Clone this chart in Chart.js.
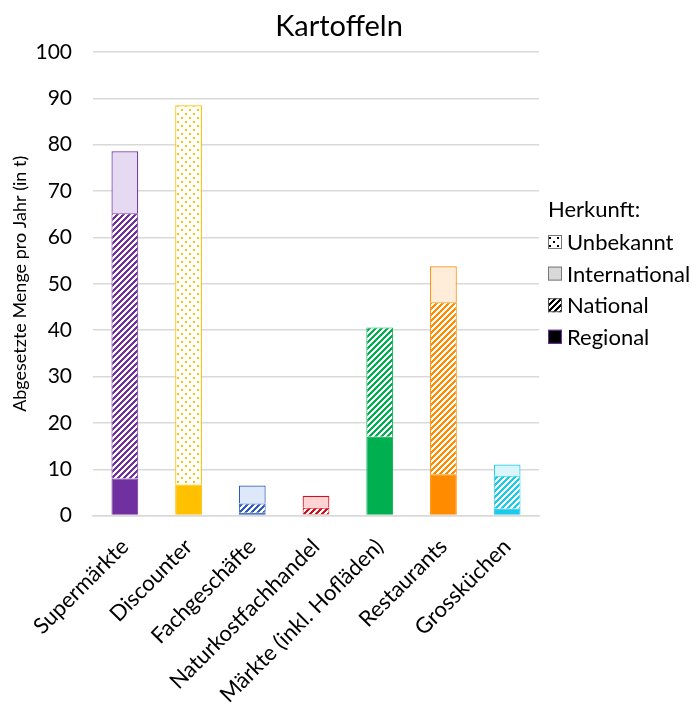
<!DOCTYPE html>
<html>
<head>
<meta charset="utf-8">
<script src="https://cdn.jsdelivr.net/npm/chart.js@4"></script>
<style>
  body { margin: 0; background: #fff; }
</style>
</head>
<body>
<canvas id="myChart" width="696" height="704"></canvas>
<script>
const categories = ['Supermärkte', 'Discounter', 'Fachgeschäfte', 'Naturkostfachhandel', 'Märkte (inkl. Hofläden)', 'Restaurants', 'Grossküchen'];
const regional      = [8.0, 6.7, 0.6, 0.3, 17.0, 8.9, 1.5];
const national      = [57.2, 0, 2.0, 1.4, 23.6, 37.1, 7.1];
const international = [13.4, 0, 3.9, 2.6, 0, 7.8, 2.4];
const unbekannt     = [0, 81.8, 0, 0, 0, 0, 0];
const yTicks = [0, 10, 20, 30, 40, 50, 60, 70, 80, 90, 100];

const mainColors  = ['#7030A0', '#FFC000', '#2E5CB8', '#D0101C', '#00B050', '#FF8C00', '#1CCBEA'];
const lightColors = ['#E6DAF2', '#FFF2CC', '#DDE8FA', '#FFD3D3', '#D5F5E1', '#FFECD9', '#D9F6FC'];

const FONT = 'Lato, "Liberation Sans", sans-serif';

// wide upward diagonal ("/") stripes, drawn pixel by pixel so the tile is seamless
function makeHatch(color) {
    const n = 6;
    const c = document.createElement('canvas');
    c.width = n; c.height = n;
    const g = c.getContext('2d');
    g.fillStyle = '#fff';
    g.fillRect(0, 0, n, n);
    g.fillStyle = color;
    for (let x = 0; x < n; x++) {
        for (let y = 0; y < n; y++) {
            if ((x + y) % n < 3) g.fillRect(x, y, 1, 1);
        }
    }
    return g.createPattern(c, 'repeat');
}

function makeDots(color) {
    const c = document.createElement('canvas');
    c.width = 8; c.height = 8;
    const g = c.getContext('2d');
    g.fillStyle = '#fff';
    g.fillRect(0, 0, 8, 8);
    g.fillStyle = color;
    g.fillRect(1, 1, 2, 2);
    g.fillRect(5, 5, 2, 2);
    return g.createPattern(c, 'repeat');
}

// title and legend drawn by hand so they can sit where Excel put them
const titleLegend = {
    id: 'titleLegend',
    afterDraw(chart) {
        const c = chart.ctx;
        c.save();
        c.fillStyle = '#000';
        c.textBaseline = 'middle';
        c.font = '29px ' + FONT;
        c.textAlign = 'center';
        c.fillText('Kartoffeln', 339, 27);

        c.font = '22px ' + FONT;
        c.textAlign = 'left';
        c.fillText('Herkunft:', 548, 210);
        const items = [
            { text: 'Unbekannt', fill: makeDots('#000'), stroke: '#777' },
            { text: 'International', fill: '#D9D9D9', stroke: '#777' },
            { text: 'National', fill: makeHatch('#000'), stroke: '#555' },
            { text: 'Regional', fill: '#000', stroke: '#7030A0' }
        ];
        items.forEach((it, i) => {
            const y = 242 + i * 31.6;
            c.fillStyle = it.fill;
            c.fillRect(548, y - 7, 14, 14);
            c.strokeStyle = it.stroke;
            c.lineWidth = 1;
            c.strokeRect(548.5, y - 6.5, 13, 13);
            c.fillStyle = '#000';
            c.fillText(it.text, 567, y + 1);
        });
        c.restore();
    }
};

const ctx = document.getElementById('myChart').getContext('2d');

const myChart = new Chart(ctx, {
    type: 'bar',
    data: {
        labels: categories,
        datasets: [{
            label: 'Regional',
            data: regional,
            backgroundColor: mainColors,
            borderColor: mainColors,
            borderWidth: 1
        }, {
            label: 'National',
            data: national,
            backgroundColor: mainColors.map(c => makeHatch(c)),
            borderColor: mainColors,
            borderWidth: 1
        }, {
            label: 'International',
            data: international,
            backgroundColor: lightColors,
            borderColor: mainColors,
            borderWidth: 1.2
        }, {
            label: 'Unbekannt',
            data: unbekannt,
            backgroundColor: mainColors.map(c => makeDots(c)),
            borderColor: mainColors,
            borderWidth: 1.2
        }]
    },
    plugins: [titleLegend],
    options: {
        responsive: false,
        animation: false,
        barPercentage: 0.84,
        categoryPercentage: 0.5,
        layout: {
            autoPadding: false,
            padding: { left: 3, right: 157, top: 52, bottom: -14 }
        },
        plugins: {
            title: { display: false },
            legend: { display: false },
            tooltip: { enabled: false }
        },
        scales: {
            x: {
                stacked: true,
                grid: { display: false },
                border: { color: '#D9D9D9', width: 1.5 },
                afterFit: function(scale) {
                    // let the rotated first label hang past the plot edge like in the original
                    scale.paddingLeft = 0;
                    scale.paddingRight = 0;
                },
                ticks: {
                    color: '#000',
                    font: { family: FONT, size: 22 },
                    minRotation: 45,
                    maxRotation: 45,
                    padding: 10
                }
            },
            y: {
                stacked: true,
                min: 0,
                max: 100,
                afterFit: function(scale) {
                    scale.width = 90;
                },
                afterBuildTicks: function(axis) {
                    axis.ticks = yTicks.map(v => ({ value: v }));
                },
                grid: {
                    color: '#D9D9D9',
                    lineWidth: 1.5,
                    drawTicks: false
                },
                border: { display: false },
                title: {
                    display: true,
                    text: 'Abgesetzte Menge pro Jahr (in t)',
                    color: '#000',
                    font: { family: FONT, size: 18 },
                    padding: { top: 6, bottom: 4 }
                },
                ticks: {
                    color: '#000',
                    font: { family: FONT, size: 21 },
                    padding: 21
                }
            }
        }
    }
});
</script>
</body>
</html>
